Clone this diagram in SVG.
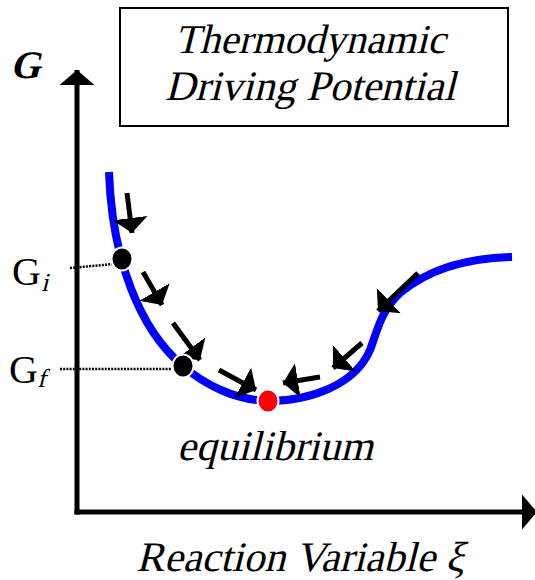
<svg xmlns="http://www.w3.org/2000/svg" width="535" height="580" viewBox="0 0 535 580">
<style>
.ax{stroke:#000;stroke-width:5;fill:none}
.ar{stroke:#000;stroke-width:5;fill:none}
.dot{stroke:#000;stroke-width:2.5;stroke-dasharray:2 1.2;fill:none}
.pt{stroke:#fff;stroke-width:2}
</style>
<defs>
<marker id="ah" markerUnits="userSpaceOnUse" markerWidth="16" markerHeight="36" viewBox="0 -18 16 36" refX="15" refY="0" orient="auto"><path d="M0,-17.5 L15,0 L0,17.5 z" fill="#000"/></marker>
</defs>
<g id="title">
<rect x="120" y="8" width="388" height="118" fill="#fff" stroke="#000" stroke-width="2"/>
<text transform="translate(310,53) skewX(-14)" x="0" y="0" font-family="Liberation Serif, serif" font-size="41" text-anchor="middle">Thermodynamic</text>
<text transform="translate(310,100) skewX(-14)" x="0" y="0" font-family="Liberation Serif, serif" font-size="42" text-anchor="middle">Driving Potential</text>
</g>
<g id="axes">
<line class="ax" x1="77" y1="514.5" x2="77" y2="70" marker-end="url(#ah)"/>
<line class="ax" x1="74.5" y1="512" x2="537" y2="512" marker-end="url(#ah)"/>
<text transform="translate(10,78) skewX(-14)" x="0" y="0" font-family="Liberation Serif, serif" font-weight="bold" font-size="39">G</text>
<text transform="translate(136,571) skewX(-14)" x="0" y="0" font-family="Liberation Serif, serif" font-size="42">Reaction Variable ξ</text>
</g>
<g id="curve">
<path d="M109,172 C112,260 140,330 183,366 C205,385 235,400 268,401 C310,401 355,385 370,350 C377,332 381,310 400,293 C430,268 470,258 512,257" fill="none" stroke="#0000ff" stroke-width="8"/>
</g>
<g id="connectors">
<line class="dot" x1="70" y1="268" x2="114" y2="264"/>
<line class="dot" x1="60" y1="369" x2="174" y2="369"/>
<line class="ar" x1="127" y1="193" x2="132" y2="233" marker-end="url(#ah)"/>
<line class="ar" x1="143" y1="272" x2="162" y2="305" marker-end="url(#ah)"/>
<line class="ar" x1="173" y1="323" x2="200" y2="360" marker-end="url(#ah)"/>
<line class="ar" x1="219" y1="370" x2="256" y2="390" marker-end="url(#ah)"/>
<line class="ar" x1="320" y1="377" x2="283" y2="383" marker-end="url(#ah)"/>
<line class="ar" x1="362" y1="343" x2="333" y2="368" marker-end="url(#ah)"/>
<line class="ar" x1="418" y1="273" x2="378" y2="311" marker-end="url(#ah)"/>
</g>
<g id="Gi">
<ellipse class="pt" cx="122" cy="259" rx="10.5" ry="11.5" fill="#000"/>
<text x="12" y="285" font-family="Liberation Serif, serif" font-size="40">G</text>
<text transform="translate(41,291) skewX(-14)" x="0" y="0" font-family="Liberation Serif, serif" font-size="26">i</text>
</g>
<g id="Gf">
<ellipse class="pt" cx="183" cy="366" rx="10.5" ry="11.5" fill="#000"/>
<text x="9" y="383" font-family="Liberation Serif, serif" font-size="40">G</text>
<text transform="translate(37,387) skewX(-14)" x="0" y="0" font-family="Liberation Serif, serif" font-size="26">f</text>
</g>
<g id="equilibrium">
<ellipse class="pt" cx="268" cy="401" rx="10.5" ry="11.5" fill="#ff0000"/>
<text transform="translate(275,460) skewX(-14)" x="0" y="0" font-family="Liberation Serif, serif" font-size="42" text-anchor="middle">equilibrium</text>
</g>
</svg>
